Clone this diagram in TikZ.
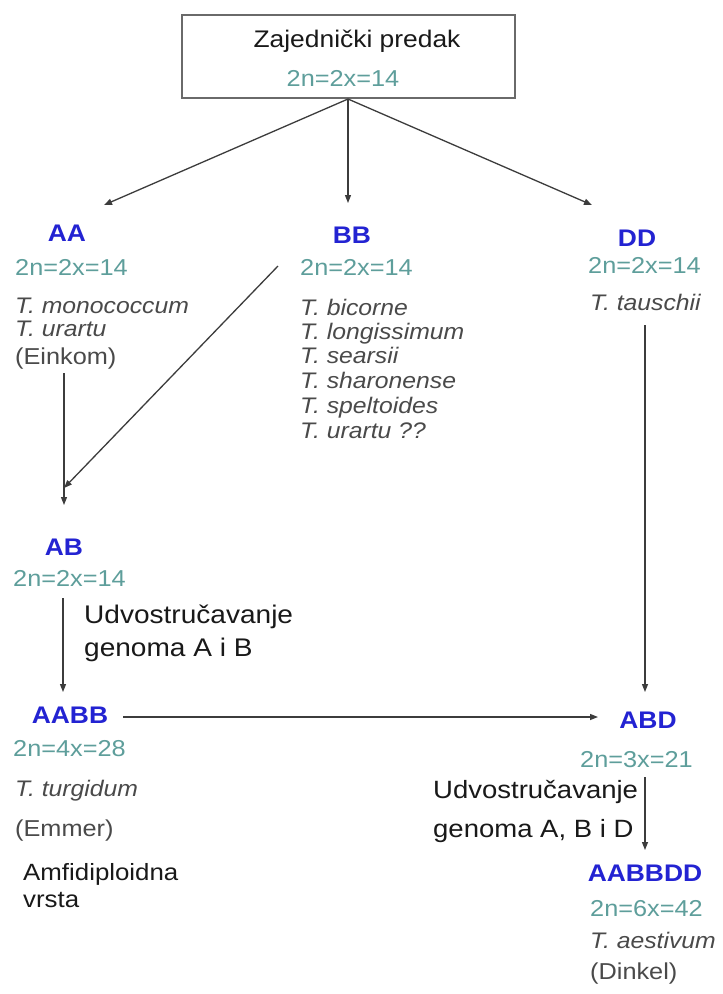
\documentclass[tikz,border=0pt]{standalone}
\usepackage{fontspec}
\setmainfont{Liberation Sans}[FakeStretch=1.1]
\usetikzlibrary{arrows.meta}
\definecolor{lblue}{HTML}{2323D2}
\definecolor{teal2n}{HTML}{5E9E9B}
\definecolor{spgray}{HTML}{4A4A4A}
\definecolor{arrgray}{HTML}{3C3C3C}
\definecolor{boxgray}{HTML}{6A6A6A}
\tikzset{
  txt/.style={inner sep=0pt, text height=#1, text depth=0pt},
  lbl/.style={txt=17.2pt, text=lblue, font=\fontsize{24}{28}\selectfont\bfseries},
  chrom/.style={txt=16.5pt, anchor=west, text=teal2n, font=\fontsize{23}{28}\selectfont},
  spec/.style={txt=16.1pt, anchor=west, text=spgray, font=\fontsize{22.5}{28}\selectfont\itshape},
  com/.style={txt=16.5pt, anchor=west, text=spgray, font=\fontsize{23}{28}\selectfont},
  note/.style={txt=17.9pt, anchor=west, text=black!90, font=\fontsize{25}{28}\selectfont},
  conn/.style={draw=arrgray, line width=1.3pt, -{Triangle[length=8pt,width=6pt]}},
}
\begin{document}
\begin{tikzpicture}[x=1pt,y=-1pt]
\useasboundingbox[fill=white] (0,0) rectangle (723,994);
% top box
\node[draw=boxgray, line width=1.6pt, minimum width=333pt, minimum height=83pt, inner sep=0pt] (box) at (348.5,56.5) {};
\node[txt=17.2pt, text=black!90, font=\fontsize{24}{28}\selectfont] (title) at (357,39) {Zajednički predak};
\node[txt=16.5pt, text=teal2n, font=\fontsize{23}{28}\selectfont] (box2n) at (343,78.5) {2n=2x=14};
\coordinate (top) at (348,99);
\coordinate (tA) at (104,205);
\coordinate (tB) at (348,203);
\coordinate (tD) at (592,205);
\draw[conn] (top) -- (tA);
\draw[conn] (top) -- (tB);
\draw[conn] (top) -- (tD);
% AA column
\node[lbl] (AA) at (67,232.5) {AA};
\node[chrom] (aa2n) at (15,267.5) {2n=2x=14};
\node[spec] (aa1) at (15,305) {T. monococcum};
\node[spec] (aa2) at (15,328) {T. urartu};
\node[com] (einkom) at (15,356) {(Einkom)};
\coordinate (eA) at (64,373);
\coordinate (abtop) at (64,505);
\coordinate (bbs) at (278,266);
\coordinate (abdiag) at (64,488);
\draw[conn] (eA) -- (abtop);
\draw[conn] (bbs) -- (abdiag);
% AB
\node[lbl] (AB) at (64,546.5) {AB};
\node[chrom] (ab2n) at (13,578.5) {2n=2x=14};
\coordinate (ab1) at (63,598);
\coordinate (ab2) at (63,692);
\draw[conn] (ab1) -- (ab2);
\node[note, txt=18.3pt, font=\fontsize{25.5}{28}\selectfont] (ud1) at (84,614.5) {Udvostručavanje};
\node[note, txt=18.3pt, font=\fontsize{25.5}{28}\selectfont] (ud2) at (84,647.5) {genoma A i B};
% AABB
\node[lbl] (AABB) at (70,714.5) {AABB};
\node[chrom] (aabb2n) at (13,748.5) {2n=4x=28};
\node[spec] (turg) at (15,788) {T. turgidum};
\node[com] (emmer) at (15,828) {(Emmer)};
\node[note, txt=16.8pt, font=\fontsize{23.5}{28}\selectfont] (amf1) at (23,872.5) {Amfidiploidna};
\node[note, txt=16.8pt, font=\fontsize{23.5}{28}\selectfont] (amf2) at (23,899) {vrsta};
% BB column
\node[lbl] (BB) at (352,235) {BB};
\node[chrom] (bb2n) at (300,267.5) {2n=2x=14};
\node[spec] (bb1) at (300,307) {T. bicorne};
\node[spec] (bb2) at (300,331) {T. longissimum};
\node[spec] (bb3) at (300,355) {T. searsii};
\node[spec] (bb4) at (300,380) {T. sharonense};
\node[spec] (bb5) at (300,405) {T. speltoides};
\node[spec] (bb6) at (300,430) {T. urartu ??};
% DD column
\node[lbl] (DD) at (637,238) {DD};
\node[chrom] (dd2n) at (588,265.5) {2n=2x=14};
\node[spec] (dd1) at (590,302) {T. tauschii};
\coordinate (dd3) at (645,325);
\coordinate (abdtop) at (645,692);
\draw[conn] (dd3) -- (abdtop);
% ABD
\node[lbl] (ABD) at (648,720) {ABD};
\coordinate (aabbR) at (123,717);
\coordinate (abdL) at (598,717);
\draw[conn] (aabbR) -- (abdL);
\node[chrom] (abd2n) at (580,759.5) {2n=3x=21};
\coordinate (abd1) at (645,777);
\coordinate (abd2) at (645,850);
\draw[conn] (abd1) -- (abd2);
\node[note] (ud3) at (433,790) {Udvostručavanje};
\node[note] (ud4) at (433,828.5) {genoma A, B i D};
% AABBDD
\node[lbl] (AABBDD) at (645,873) {AABBDD};
\node[chrom] (hx2n) at (590,908) {2n=6x=42};
\node[spec] (aest) at (590,940) {T. aestivum};
\node[com] (dinkel) at (590,971) {(Dinkel)};
\end{tikzpicture}
\end{document}
